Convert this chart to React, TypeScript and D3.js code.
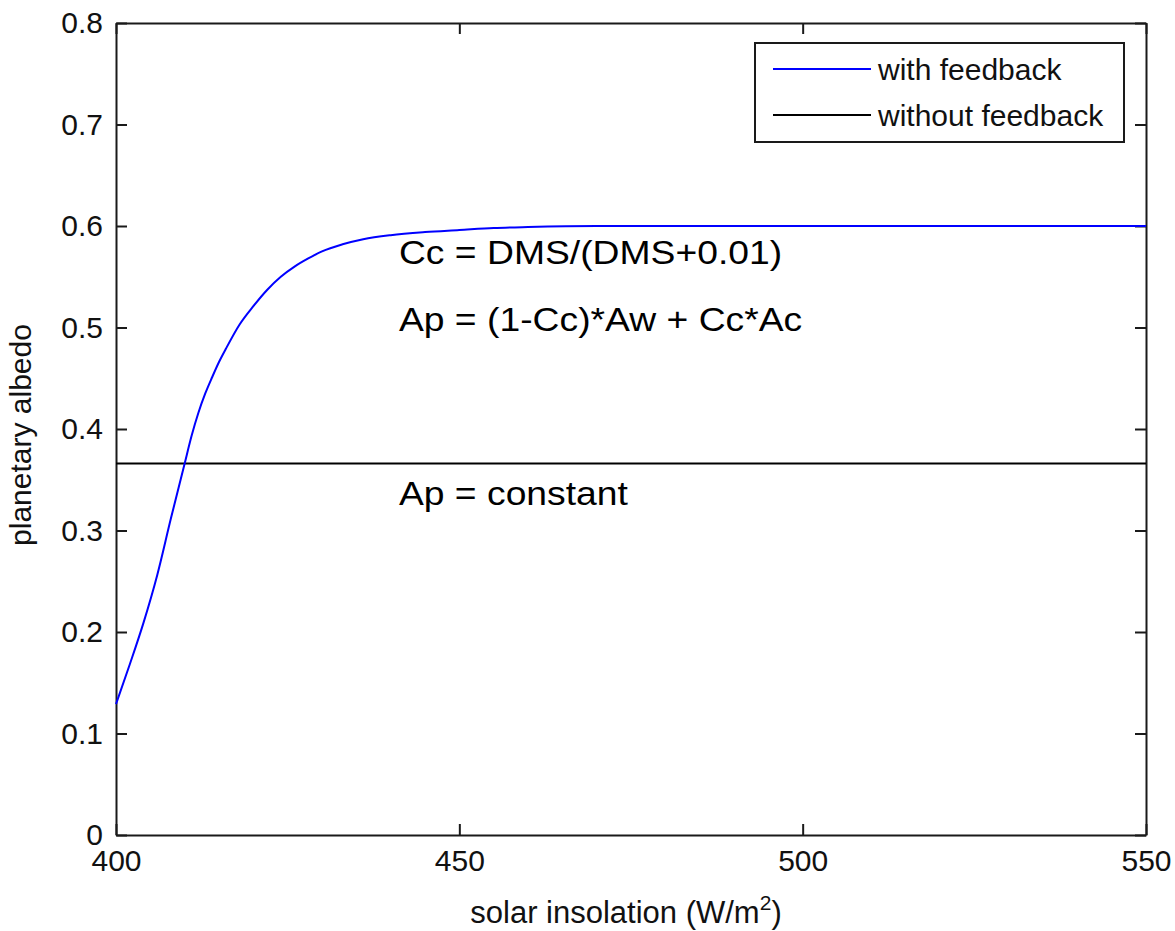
import React, { useEffect, useRef } from "react";
import * as d3 from "d3";

// solar insolation (W/m2) and planetary albedo with DMS cloud feedback
const insolation = [
  400, 402, 404, 406, 408, 410, 411, 412, 413, 414, 415, 416, 418, 420, 422,
  424, 426, 428, 430, 433, 436, 440, 445, 450, 455, 460, 470, 480, 500, 525,
  550,
];
const albedoFeedback = [
  0.129, 0.168, 0.209, 0.256, 0.312, 0.366, 0.393, 0.416, 0.435, 0.451, 0.466,
  0.479, 0.503, 0.521, 0.537, 0.55, 0.56, 0.568, 0.575, 0.582, 0.587, 0.591,
  0.594, 0.596, 0.598, 0.599, 0.6, 0.6, 0.6, 0.6, 0.6,
];
// constant albedo without feedback
const albedoConstant = 0.366;

const xTicks = [400, 450, 500, 550];
const yTicks = [0, 0.1, 0.2, 0.3, 0.4, 0.5, 0.6, 0.7, 0.8];

const legendItems = [
  { label: "with feedback", color: "#0000ff" },
  { label: "without feedback", color: "#000000" },
];

const notes = [
  { text: "Cc = DMS/(DMS+0.01)", x: 441.2, y: 0.563 },
  { text: "Ap = (1-Cc)*Aw + Cc*Ac", x: 441.2, y: 0.497 },
  { text: "Ap = constant", x: 441.2, y: 0.325 },
];

const WIDTH = 1175;
const HEIGHT = 931;

export default function App() {
  const svgRef = useRef<SVGSVGElement>(null);

  useEffect(() => {
    if (!svgRef.current) return;
    const svg = d3.select(svgRef.current);
    svg.selectAll("*").remove();

    const margin = { top: 23, right: 29, bottom: 96, left: 116 };
    const w = WIDTH - margin.left - margin.right;
    const h = HEIGHT - margin.top - margin.bottom;
    const font = "'Liberation Sans', Arial, sans-serif";

    const x = d3.scaleLinear().domain([400, 550]).range([0, w]);
    const y = d3.scaleLinear().domain([0, 0.8]).range([h, 0]);

    const g = svg
      .append("g")
      .attr("transform", `translate(${margin.left},${margin.top})`);

    // bottom axis with labels, ticks pointing inward
    const xAxis = g
      .append("g")
      .attr("transform", `translate(0,${h})`)
      .call(
        d3
          .axisBottom(x)
          .tickValues(xTicks)
          .tickSizeInner(-11)
          .tickSizeOuter(0)
          .tickPadding(15)
          .tickFormat((d) => String(d))
      );
    xAxis.selectAll("text").style("font-size", "30px").style("font-family", font).attr("fill", "#111");

    const yAxis = g.append("g").call(
      d3
        .axisLeft(y)
        .tickValues(yTicks)
        .tickSizeInner(-11)
        .tickSizeOuter(0)
        .tickPadding(13)
        .tickFormat((d) => (d === 0 ? "0" : d3.format(".1f")(d as number)))
    );
    yAxis.selectAll("text").style("font-size", "30px").style("font-family", font).attr("fill", "#111");

    // top and right axes (box), ticks only
    g.append("g")
      .call(d3.axisTop(x).tickValues(xTicks).tickSizeInner(-11).tickSizeOuter(0).tickFormat(() => ""));
    g.append("g")
      .attr("transform", `translate(${w},0)`)
      .call(d3.axisRight(y).tickValues(yTicks).tickSizeInner(-11).tickSizeOuter(0).tickFormat(() => ""));

    g.selectAll(".domain").attr("stroke", "#1a1a1a").attr("stroke-width", 2);
    g.selectAll(".tick line").attr("stroke", "#1a1a1a").attr("stroke-width", 2);

    // constant albedo line
    g.append("line")
      .attr("x1", x(400))
      .attr("x2", x(550))
      .attr("y1", y(albedoConstant))
      .attr("y2", y(albedoConstant))
      .attr("stroke", "#000")
      .attr("stroke-width", 2);

    // feedback curve
    const line = d3
      .line<number>()
      .x((_, i) => x(insolation[i]))
      .y((d) => y(d))
      .curve(d3.curveMonotoneX);

    g.append("path")
      .datum(albedoFeedback)
      .attr("d", line)
      .attr("fill", "none")
      .attr("stroke", "#0000ff")
      .attr("stroke-width", 2);

    // annotations
    notes.forEach((n) => {
      g.append("text")
        .attr("transform", `translate(${x(n.x)},${y(n.y)}) scale(1.13,1)`)
        .style("font-family", font)
        .style("font-size", "33px")
        .attr("fill", "#000")
        .text(n.text);
    });

    // legend
    const legend = g.append("g").attr("transform", "translate(639,20)");
    legend
      .append("rect")
      .attr("width", 369)
      .attr("height", 99)
      .attr("fill", "#fff")
      .attr("stroke", "#1a1a1a")
      .attr("stroke-width", 2);
    legendItems.forEach((item, i) => {
      const ly = 26 + i * 46;
      legend
        .append("line")
        .attr("x1", 18)
        .attr("x2", 116)
        .attr("y1", ly)
        .attr("y2", ly)
        .attr("stroke", item.color)
        .attr("stroke-width", 2);
      legend
        .append("text")
        .attr("x", 123)
        .attr("y", ly + 11)
        .style("font-family", font)
        .style("font-size", "30px")
        .attr("fill", "#111")
        .text(item.label);
    });

    // axis titles
    const xl = svg
      .append("text")
      .attr("x", margin.left + w / 2 - 5)
      .attr("y", 923)
      .attr("text-anchor", "middle")
      .style("font-family", font)
      .style("font-size", "31px")
      .attr("fill", "#111");
    xl.append("tspan").text("solar insolation (W/m");
    xl.append("tspan").attr("dy", -13).style("font-size", "21px").text("2");
    xl.append("tspan").attr("dy", 13).text(")");

    svg
      .append("text")
      .attr("transform", `translate(31,${margin.top + h / 2 + 6}) rotate(-90)`)
      .attr("text-anchor", "middle")
      .style("font-family", font)
      .style("font-size", "30px")
      .attr("fill", "#111")
      .text("planetary albedo");
  }, []);

  return (
    <svg
      ref={svgRef}
      width={WIDTH}
      height={HEIGHT}
      style={{ position: "absolute", left: 0, top: 0, background: "#fff" }}
    />
  );
}
